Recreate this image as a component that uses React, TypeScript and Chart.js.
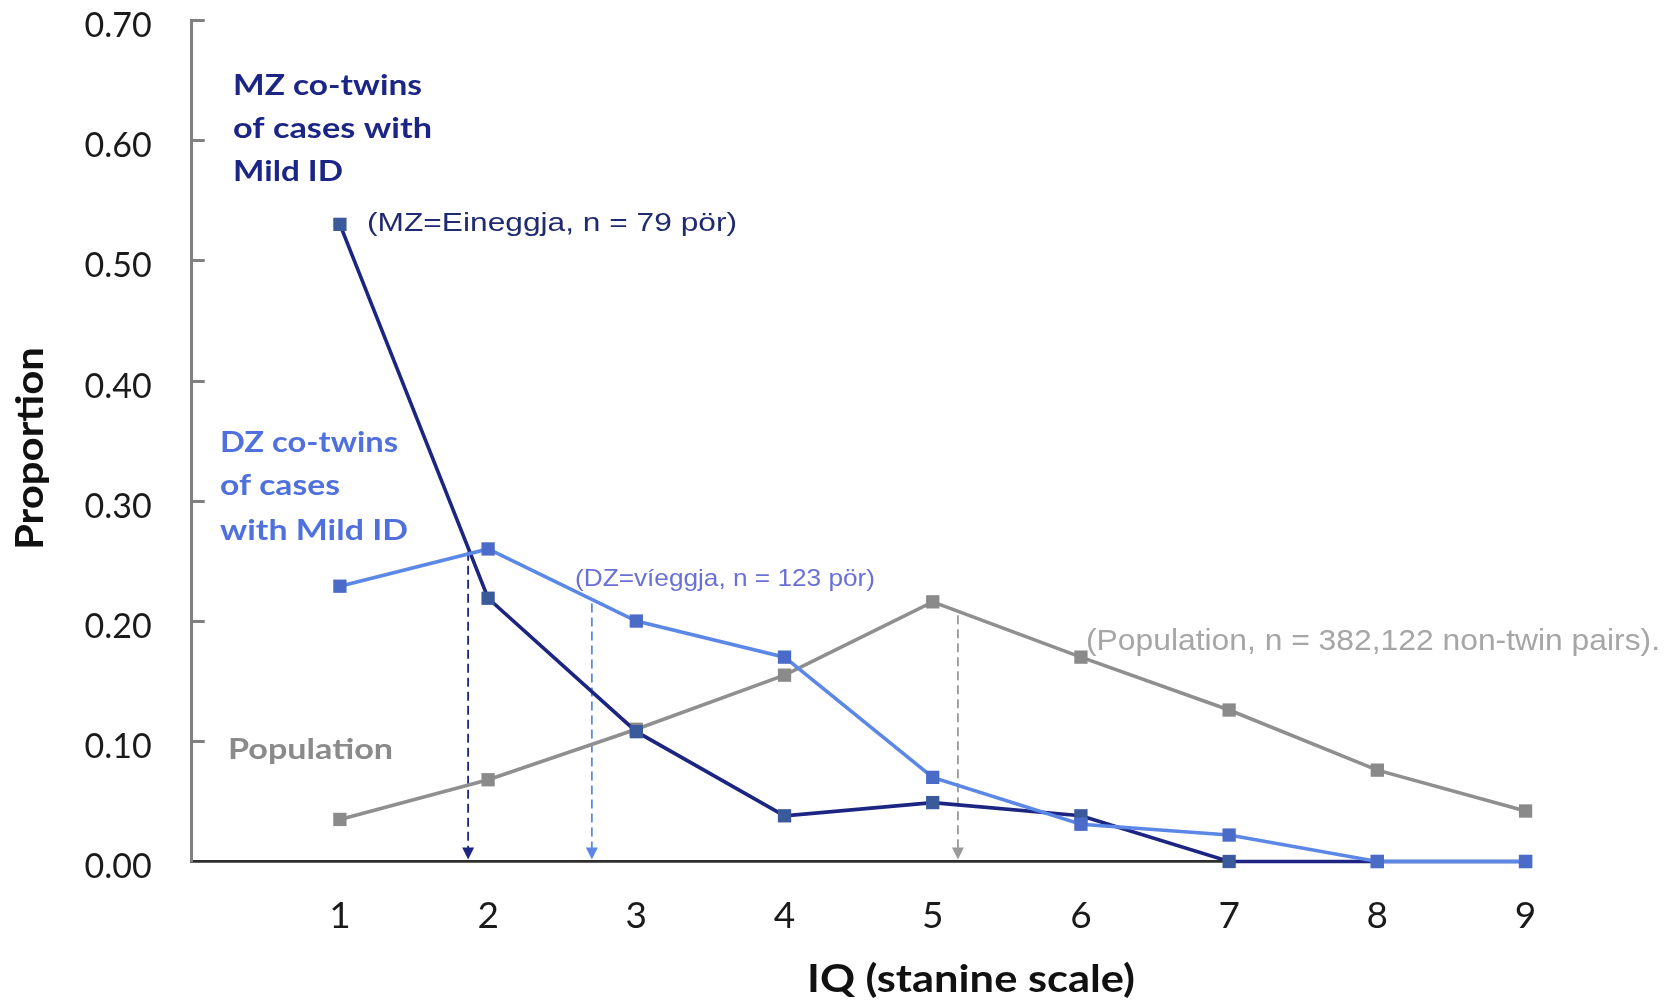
import React, { useEffect, useRef } from 'react';
import { Chart, registerables } from 'chart.js';

Chart.register(...registerables);

// ---- data ----
const stanines = [1, 2, 3, 4, 5, 6, 7, 8, 9];
const xTickLabels = ['1', '2', '3', '4', '5', '6', '7', '8', '9'];
const yTickLabels = ['0.00', '0.10', '0.20', '0.30', '0.40', '0.50', '0.60', '0.70'];

const mzValues = [0.53, 0.219, 0.108, 0.038, 0.049, 0.038, 0, 0, 0];
const dzValues = [0.229, 0.26, 0.2, 0.17, 0.07, 0.031, 0.022, 0, 0];
const popValues = [0.035, 0.068, 0.11, 0.155, 0.216, 0.17, 0.126, 0.076, 0.042];

// mean stanine of each group (dashed arrows)
const meanStanine = [1.865, 2.7, 5.17];

const mzLabelLines = ['MZ co-twins', 'of cases with', 'Mild ID'];
const dzLabelLines = ['DZ co-twins', 'of cases', 'with Mild ID'];
const popLabel = 'Population';
const mzNote = '(MZ=Eineggja, n = 79 pör)';
const dzNote = '(DZ=víeggja, n = 123 pör)';
const popNote = '(Population, n = 382,122 non-twin pairs).';
const xTitle = 'IQ (stanine scale)';
const yTitle = 'Proportion';

// ---- styles ----
const MZ_LINE = '#1c2582';
const MZ_POINT = '#3a5a9c';
const DZ_LINE = '#5b87e6';
const DZ_POINT = '#4a6cc8';
const POP_LINE = '#8f8f8f';
const POP_POINT = '#8a8a8a';

function fitText(
  ctx: CanvasRenderingContext2D,
  text: string,
  x: number,
  y: number,
  width: number,
  font: string,
  color: string,
  align: 'left' | 'center' = 'left',
  rotate = 0
) {
  ctx.save();
  ctx.font = font;
  ctx.fillStyle = color;
  ctx.textBaseline = 'alphabetic';
  ctx.textAlign = 'left';
  const w = ctx.measureText(text).width;
  ctx.translate(x, y);
  if (rotate) ctx.rotate(rotate);
  ctx.scale(width / w, 1);
  ctx.fillText(text, align === 'center' ? -w / 2 : 0, 0);
  ctx.restore();
}

const annotationPlugin = {
  id: 'iqAnnotations',
  beforeDatasetsDraw(chart: any) {
    const { ctx, scales } = chart;
    const xs = scales.x;
    const ys = scales.y;
    const series = [mzValues, dzValues, popValues];
    const colors = [MZ_LINE, DZ_LINE, '#9a9a9a'];
    meanStanine.forEach((m, i) => {
      const vals = series[i];
      const lo = Math.floor(m);
      const t = m - lo;
      const v = vals[lo - 1] + t * (vals[lo] - vals[lo - 1]);
      const px = xs.getPixelForValue(m);
      const top = ys.getPixelForValue(v) + 4;
      const bottom = ys.getPixelForValue(0) - 2;
      ctx.save();
      ctx.strokeStyle = colors[i];
      ctx.fillStyle = colors[i];
      ctx.lineWidth = 1.8;
      ctx.setLineDash([9, 5]);
      ctx.beginPath();
      ctx.moveTo(px, top);
      ctx.lineTo(px, bottom - 11);
      ctx.stroke();
      ctx.setLineDash([]);
      ctx.beginPath();
      ctx.moveTo(px - 6, bottom - 12);
      ctx.lineTo(px + 6, bottom - 12);
      ctx.lineTo(px, bottom);
      ctx.closePath();
      ctx.fill();
      ctx.restore();
    });
  },
  afterDraw(chart: any) {
    const { ctx, scales, chartArea } = chart;
    const ys = scales.y;
    // inward y ticks
    ctx.save();
    ctx.strokeStyle = '#808080';
    ctx.lineWidth = 3;
    yTickLabels.forEach((_, i) => {
      if (i === 0) return;
      const py = Math.round(ys.getPixelForValue(i / 10)) + 0.5;
      ctx.beginPath();
      ctx.moveTo(chartArea.left, py);
      ctx.lineTo(chartArea.left + 13, py);
      ctx.stroke();
    });
    ctx.restore();

    const boldFont = 'bold 28px Lato';
    const mzBase = [95, 138, 181];
    const mzW = [189, 199, 110];
    mzLabelLines.forEach((t, i) => fitText(ctx, t, 233, mzBase[i], mzW[i], boldFont, '#1b2585'));
    const dzBase = [452, 495, 540];
    const dzW = [178, 120, 188];
    dzLabelLines.forEach((t, i) => fitText(ctx, t, 220, dzBase[i], dzW[i], boldFont, '#4f70dd'));
    fitText(ctx, popLabel, 228, 759, 165, boldFont, '#8a8a8a');

    fitText(ctx, mzNote, 367, 231, 370, '25px "Liberation Sans"', '#1f2a70');
    fitText(ctx, dzNote, 575, 586, 300, '24px "Liberation Sans"', '#6a70d6');
    fitText(ctx, popNote, 1086, 650, 574, '30px "Liberation Sans"', '#a6a6a6');

    fitText(ctx, yTitle, 43, 448.5, 203, 'bold 38px Lato', '#111111', 'center', -Math.PI / 2);
    fitText(ctx, xTitle, 807, 992, 328, 'bold 38px Lato', '#111111');
  },
};

function makeData(vals: number[]) {
  return stanines.map((s, i) => ({ x: s, y: vals[i] }));
}

export default function App() {
  const canvasRef = useRef<HTMLCanvasElement | null>(null);

  useEffect(() => {
    const canvas = canvasRef.current;
    if (!canvas) return;
    const common = {
      tension: 0,
      borderWidth: 3.6,
      pointStyle: 'rect',
      pointRadius: 9.4,
      pointHoverRadius: 9.4,
      pointBorderWidth: 0,
      clip: false,
      fill: false,
    };
    const chart = new Chart(canvas, {
      type: 'line',
      data: {
        datasets: [
          {
            label: 'DZ',
            data: makeData(dzValues),
            borderColor: DZ_LINE,
            backgroundColor: DZ_POINT,
            pointBackgroundColor: DZ_POINT,
            pointBorderColor: DZ_POINT,
            ...common,
          },
          {
            label: 'MZ',
            data: makeData(mzValues),
            borderColor: MZ_LINE,
            backgroundColor: MZ_POINT,
            pointBackgroundColor: MZ_POINT,
            pointBorderColor: MZ_POINT,
            ...common,
          },
          {
            label: 'Population',
            data: makeData(popValues),
            borderColor: POP_LINE,
            backgroundColor: POP_POINT,
            pointBackgroundColor: POP_POINT,
            pointBorderColor: POP_POINT,
            ...common,
          },
        ],
      } as any,
      options: {
        responsive: false,
        animation: false,
        layout: { padding: { top: 20, right: 146, left: 0, bottom: 0 } },
        plugins: {
          legend: { display: false },
          tooltip: { enabled: false },
          title: { display: false },
        },
        scales: {
          x: {
            type: 'linear',
            min: 0,
            max: 9.03,
            afterFit: (s: any) => {
              s.height = 138.5;
              s.paddingLeft = 0;
              s.paddingRight = 0;
            },
            grid: { display: false, drawTicks: false },
            border: { display: true, color: '#2e2e2e', width: 2.8 },
            ticks: {
              stepSize: 1,
              includeBounds: false,
              autoSkip: false,
              maxRotation: 0,
              padding: 32,
              color: '#1a1a1a',
              font: { family: 'Lato', size: 37 },
              callback: (v: any) => {
                const i = stanines.indexOf(Number(v));
                return i >= 0 ? xTickLabels[i] : null;
              },
            },
          },
          y: {
            type: 'linear',
            min: 0,
            max: 0.7,
            afterFit: (s: any) => {
              s.width = 191.7;
              s.paddingTop = 0;
              s.paddingBottom = 0;
            },
            grid: { display: false, drawTicks: false },
            border: { display: true, color: '#808080', width: 3 },
            ticks: {
              stepSize: 0.1,
              padding: 40,
              labelOffset: 6,
              color: '#1a1a1a',
              font: { family: 'Lato', size: 34 },
              callback: (v: any) => {
                const i = Math.round(Number(v) * 10);
                return yTickLabels[i] ?? null;
              },
            },
          },
        },
      } as any,
      plugins: [annotationPlugin],
    });
    return () => chart.destroy();
  }, []);

  return (
    <div style={{ position: 'fixed', left: 0, top: 0, width: 1676, height: 1000, background: '#ffffff' }}>
      <canvas ref={canvasRef} width={1676} height={1000} style={{ display: 'block' }} />
    </div>
  );
}
